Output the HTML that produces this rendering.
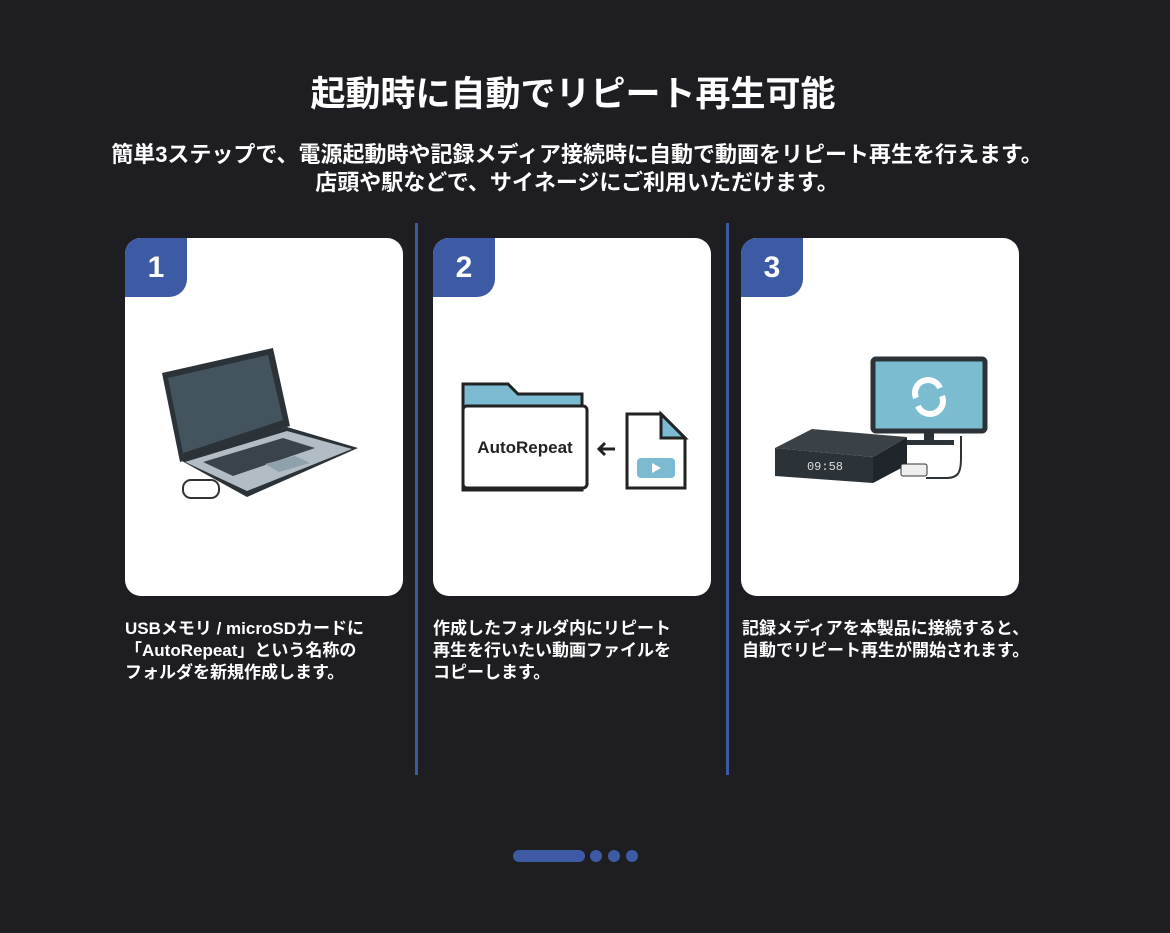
<!DOCTYPE html>
<html><head><meta charset="utf-8"><style>
body{margin:0;width:1170px;height:933px;background:#1e1e22;font-family:"Liberation Sans","Noto Sans CJK JP",sans-serif;color:#fff;position:relative;overflow:hidden}
.t{position:absolute;left:0;width:1146px;text-align:center;top:66px;font-size:35px;font-weight:bold}
.s{position:absolute;left:0;width:1154px;text-align:center;top:141px;font-size:22px;font-weight:bold;line-height:28px}
.card{position:absolute;top:238px;width:278px;height:358px;background:#fff;border-radius:16px;overflow:hidden}
.b{position:absolute;left:0;top:0;width:62px;height:59px;background:#3d5ba5;border-bottom-right-radius:18px;color:#fff;font-weight:bold;font-size:30px;text-align:center;line-height:60px}
.d{position:absolute;top:223px;width:3px;height:552px;background:#3d5aa0}
.c{position:absolute;top:618px;font-size:17px;line-height:22px;font-weight:bold}
.dot{position:absolute;top:850px;height:12px;border-radius:6px;background:#3d5ba5}
</style></head><body>
<div class="t">起動時に自動でリピート再生可能</div>
<div class="s">簡単3ステップで、電源起動時や記録メディア接続時に自動で動画をリピート再生を行えます。<br>店頭や駅などで、サイネージにご利用いただけます。</div>
<div class="d" style="left:415px"></div><div class="d" style="left:726px"></div>

<div class="card" style="left:125px"><div class="b">1</div>
<svg width="278" height="358" style="position:absolute;left:0;top:0">
<rect x="58" y="242" width="36" height="18" rx="8" fill="#fff" stroke="#333" stroke-width="2"/>
<polygon points="37,135 148,110 165,188 55,224" fill="#2b3338"/>
<polygon points="43,140 143,117 158,182 58,215" fill="#44545e"/>
<polygon points="55,222 162,189 233,210 122,259" fill="#2b3338"/>
<polygon points="60,224 162,193 227,211 122,253" fill="#b2bcc4"/>
<polygon points="78,224 158,200 190,210 108,238" fill="#3a434a"/>
<polygon points="140,226 170,218 185,225 154,234" fill="#8ea1ad"/>
</svg></div>

<div class="card" style="left:433px"><div class="b">2</div>
<svg width="278" height="358" style="position:absolute;left:0;top:0">
<path d="M30,252 V146 h45 l10,10 h64 v96 z" fill="#7bbad0" stroke="#222" stroke-width="3"/>
<rect x="30" y="168" width="124" height="82" rx="4" fill="#fff" stroke="#222" stroke-width="3"/>
<text x="92" y="215" text-anchor="middle" font-size="17" font-weight="bold" fill="#222" font-family="Liberation Sans,sans-serif">AutoRepeat</text>
<path d="M166,211 h16 M172,205 l-6,6 l6,6" stroke="#222" stroke-width="3" fill="none"/>
<path d="M194,176 h34 l24,24 v50 h-58 z" fill="#fff" stroke="#222" stroke-width="3"/>
<path d="M228,176 v24 h24 z" fill="#7bbad0" stroke="#222" stroke-width="3"/>
<rect x="204" y="220" width="38" height="20" rx="4" fill="#7bbad0"/>
<polygon points="219,225 219,235 228,230" fill="#fff"/>
</svg></div>

<div class="card" style="left:741px"><div class="b">3</div>
<svg width="278" height="358" style="position:absolute;left:0;top:0">
<rect x="132" y="121" width="112" height="72" rx="3" fill="#7bbcd0" stroke="#2b3338" stroke-width="5"/>
<rect x="183" y="193" width="10" height="10" fill="#2b3338"/><rect x="165" y="202" width="48" height="5" fill="#2b3338"/>
<path d="M175,160 a13,13 0 0 1 24,-10 M201,158 a13,13 0 0 1 -24,10" stroke="#fff" stroke-width="6" fill="none"/>
<path d="M185,240 h20 c12,0 15,-5 15,-20 v-22" stroke="#2b3338" stroke-width="2" fill="none"/>
<polygon points="34,210 132,219 132,245 34,238" fill="#2b3338"/>
<polygon points="132,219 166,199 166,227 132,245" fill="#1f252a"/>
<polygon points="34,210 71,191 166,199 132,219" fill="#3a4248"/>
<text x="84" y="232" text-anchor="middle" font-size="12" fill="#ddd" font-family="Liberation Mono,monospace">09:58</text>
<rect x="160" y="226" width="26" height="12" rx="2" fill="#eee" stroke="#333"/>
</svg></div>

<div class="c" style="left:125px">USBメモリ / microSDカードに<br>「AutoRepeat」という名称の<br>フォルダを新規作成します。</div>
<div class="c" style="left:433px">作成したフォルダ内にリピート<br>再生を行いたい動画ファイルを<br>コピーします。</div>
<div class="c" style="left:742px">記録メディアを本製品に接続すると、<br>自動でリピート再生が開始されます。</div>

<div class="dot" style="left:513px;width:72px"></div>
<div class="dot" style="left:590px;width:12px"></div>
<div class="dot" style="left:608px;width:12px"></div>
<div class="dot" style="left:626px;width:12px"></div>
</body></html>
